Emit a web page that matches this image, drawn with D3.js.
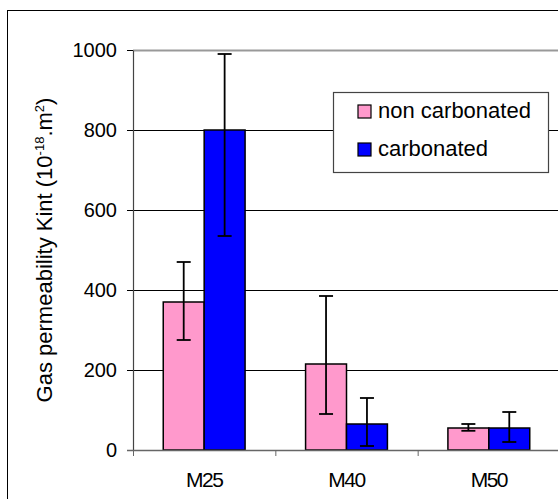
<!DOCTYPE html>
<html>
<head>
<meta charset="utf-8">
<script src="https://cdn.jsdelivr.net/npm/d3@7"></script>
<style>
  body { margin: 0; background: #fff; }
  svg { display: block; font-family: "Liberation Sans", Arial, sans-serif; }
</style>
</head>
<body>
<div id="chart"></div>
<script>
// Chart data
var categories = ['M25', 'M40', 'M50'];
var seriesNames = ['non carbonated', 'carbonated'];
var seriesColors = ['#ff99cc', '#0000ff'];
var nonCarbValues = [370, 215, 55];
var nonCarbLow    = [275, 90, 48];
var nonCarbHigh   = [470, 385, 65];
var carbValues    = [800, 65, 55];
var carbLow       = [535, 10, 20];
var carbHigh      = [990, 130, 95];
var yTicks = [0, 200, 400, 600, 800, 1000];

var width = 558, height = 499;
var margin = { left: 133, top: 50, right: -2, bottom: 49 };
var plotW = width - margin.left - margin.right;
var plotH = height - margin.top - margin.bottom;

var svg = d3.select('#chart').append('svg')
    .attr('width', width)
    .attr('height', height);

// outer chart-area border (runs off the right and bottom edges)
svg.append('rect')
    .attr('x', 7.5).attr('y', 10.5)
    .attr('width', 600).attr('height', 600)
    .attr('fill', 'none')
    .attr('stroke', '#000')
    .attr('stroke-width', 1);

var g = svg.append('g').attr('transform', 'translate(' + margin.left + ',' + margin.top + ')');

var x = d3.scaleBand().domain(categories).range([0, plotW]).paddingInner(0).paddingOuter(0);
var y = d3.scaleLinear().domain([0, 1000]).range([plotH, 0]);

var groupW = x.bandwidth() * 0.575;
var x1 = d3.scaleBand().domain(seriesNames).range([0, groupW]);

// gridlines
g.selectAll('line.grid')
    .data(yTicks.filter(function(d) { return d > 0 && d < 1000; }))
    .enter().append('line')
    .attr('class', 'grid')
    .attr('x1', 0).attr('x2', plotW + 10)
    .attr('y1', function(d) { return Math.round(y(d)) + 0.5; })
    .attr('y2', function(d) { return Math.round(y(d)) + 0.5; })
    .attr('stroke', '#000').attr('stroke-width', 1);

// plot-area top border
g.append('line')
    .attr('x1', 0).attr('x2', plotW + 10)
    .attr('y1', 0.5).attr('y2', 0.5)
    .attr('stroke', '#999').attr('stroke-width', 2);

// bars
var rows = categories.map(function(c, i) {
    return [
        { cat: c, s: seriesNames[0], v: nonCarbValues[i], lo: nonCarbLow[i], hi: nonCarbHigh[i], color: seriesColors[0] },
        { cat: c, s: seriesNames[1], v: carbValues[i], lo: carbLow[i], hi: carbHigh[i], color: seriesColors[1] }
    ];
});
var flat = d3.merge(rows);

function barX(d) {
    return x(d.cat) + (x.bandwidth() - groupW) / 2 + x1(d.s);
}

g.selectAll('rect.bar')
    .data(flat)
    .enter().append('rect')
    .attr('class', 'bar')
    .attr('x', function(d) { return barX(d); })
    .attr('y', function(d) { return y(d.v); })
    .attr('width', x1.bandwidth())
    .attr('height', function(d) { return plotH - y(d.v); })
    .attr('fill', function(d) { return d.color; })
    .attr('stroke', '#000')
    .attr('stroke-width', 1.5);

// error bars
var err = g.selectAll('g.err')
    .data(flat)
    .enter().append('g')
    .attr('class', 'err')
    .attr('stroke', '#000')
    .attr('stroke-width', 1.8);
err.append('line')
    .attr('x1', function(d) { return barX(d) + x1.bandwidth() / 2; })
    .attr('x2', function(d) { return barX(d) + x1.bandwidth() / 2; })
    .attr('y1', function(d) { return y(d.lo); })
    .attr('y2', function(d) { return y(d.hi); });
['lo', 'hi'].forEach(function(k) {
    err.append('line')
        .attr('x1', function(d) { return barX(d) + x1.bandwidth() / 2 - 7; })
        .attr('x2', function(d) { return barX(d) + x1.bandwidth() / 2 + 7; })
        .attr('y1', function(d) { return y(d[k]); })
        .attr('y2', function(d) { return y(d[k]); });
});

// y axis
var yAxis = g.append('g')
    .call(d3.axisLeft(y).tickValues(yTicks).tickFormat(d3.format('d'))
        .tickSize(6).tickSizeOuter(0).tickPadding(10));
yAxis.select('.domain').attr('stroke', '#444').attr('stroke-width', 1.2);
yAxis.selectAll('.tick line').attr('stroke', '#000');
yAxis.selectAll('.tick text').attr('font-size', '20px').attr('fill', '#000')
    .attr('font-family', '"Liberation Sans", Arial, sans-serif');

// x axis
var xAxis = g.append('g')
    .attr('transform', 'translate(0,' + plotH + ')')
    .call(d3.axisBottom(x).tickSize(0).tickPadding(22));
xAxis.select('.domain').remove();
g.append('line')
    .attr('x1', -6).attr('x2', plotW + 10)
    .attr('y1', plotH + 0.5).attr('y2', plotH + 0.5)
    .attr('stroke', '#666').attr('stroke-width', 1.5);
xAxis.selectAll('.tick text').attr('font-size', '21px').attr('fill', '#000')
    .attr('font-family', '"Liberation Sans", Arial, sans-serif')
    .attr('letter-spacing', '-1.5px');
// category boundary ticks
g.selectAll('line.xtick')
    .data(categories)
    .enter().append('line')
    .attr('class', 'xtick')
    .attr('x1', function(d) { return x(d) + 0.5; })
    .attr('x2', function(d) { return x(d) + 0.5; })
    .attr('y1', plotH).attr('y2', plotH + 6)
    .attr('stroke', '#666').attr('stroke-width', 1);

// y axis title
var title = svg.append('text')
    .attr('transform', 'translate(52,' + (margin.top + plotH / 2) + ') rotate(-90)')
    .attr('text-anchor', 'middle')
    .attr('font-size', '22px')
    .attr('fill', '#000');
title.append('tspan').text('Gas permeability Kint (10');
title.append('tspan').attr('font-size', '13px').attr('dy', '-8').text('-18');
title.append('tspan').attr('dy', '8').text('.m');
title.append('tspan').attr('font-size', '13px').attr('dy', '-8').text('2');
title.append('tspan').attr('dy', '8').text(')');

// legend
var legend = svg.append('g').attr('transform', 'translate(333,92)');
legend.append('rect')
    .attr('x', 0.5).attr('y', 0.5)
    .attr('width', 215).attr('height', 80)
    .attr('fill', '#fff')
    .attr('stroke', '#444').attr('stroke-width', 1.2);
var li = legend.selectAll('g.item')
    .data(seriesNames)
    .enter().append('g')
    .attr('class', 'item')
    .attr('transform', function(d, i) { return 'translate(25,' + (13 + i * 38) + ')'; });
li.append('rect')
    .attr('width', 13).attr('height', 13)
    .attr('fill', function(d, i) { return seriesColors[i]; })
    .attr('stroke', '#000').attr('stroke-width', 1.2);
li.append('text')
    .attr('x', 20).attr('y', 13)
    .attr('font-size', '22px')
    .attr('fill', '#000')
    .text(function(d) { return d; });
</script>
</body>
</html>
